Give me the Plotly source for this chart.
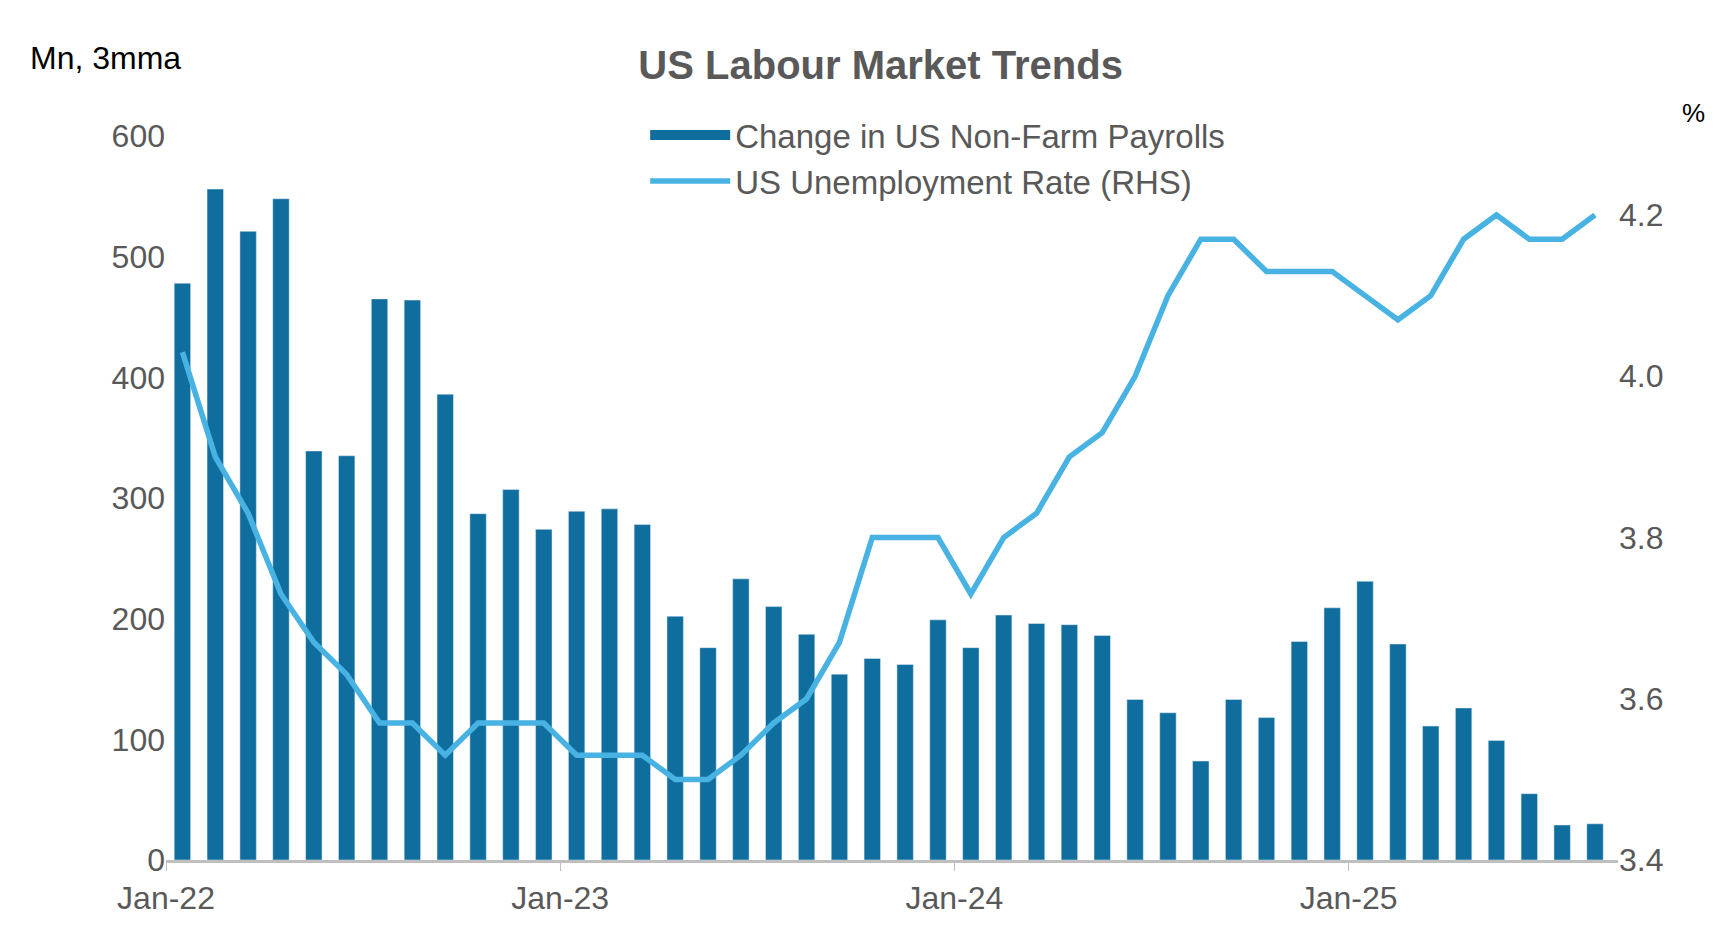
import plotly.graph_objects as go

months = [f"{m}-{y}" for y in ("22", "23", "24", "25")
          for m in ("Jan", "Feb", "Mar", "Apr", "May", "Jun", "Jul", "Aug", "Sep", "Oct", "Nov", "Dec")][:44]

payrolls = [478, 556, 521, 548, 339, 335, 465, 464, 386, 287, 307, 274,
            289, 291, 278, 202, 176, 233, 210, 187, 154, 167, 162, 199,
            176, 203, 196, 195, 186, 133, 122, 82, 133, 118, 181, 209,
            231, 179, 111, 126, 99, 55, 29, 30]

unemployment = [4.03, 3.90, 3.83, 3.73, 3.67, 3.63, 3.57, 3.57, 3.53, 3.57, 3.57, 3.57,
                3.53, 3.53, 3.53, 3.50, 3.50, 3.53, 3.57, 3.60, 3.67, 3.80, 3.80, 3.80,
                3.73, 3.80, 3.83, 3.90, 3.93, 4.00, 4.10, 4.17, 4.17, 4.13, 4.13, 4.13,
                4.10, 4.07, 4.10, 4.17, 4.20, 4.17, 4.17, 4.20]

tick_labels = ["Jan-22", "Jan-23", "Jan-24", "Jan-25"]

idx = list(range(len(months)))
tick_pos = [months.index(t) - 0.5 for t in tick_labels]

GREY = "#595959"
BAR = "#0F6E9E"
FONT = "Liberation Sans"

fig = go.Figure()
fig.add_trace(go.Bar(
    x=idx, y=payrolls, name="Change in US Non-Farm Payrolls",
    marker=dict(color=BAR), showlegend=False,
))
# legend swatch for the bars (wide rectangle like the original)
fig.add_trace(go.Scatter(
    x=[None], y=[None], name="Change in US Non-Farm Payrolls",
    mode="lines", line=dict(color=BAR, width=22),
))
fig.add_trace(go.Scatter(
    x=idx, y=unemployment, name="US Unemployment Rate (RHS)", yaxis="y2",
    mode="lines", line=dict(color="#48B2E3", width=5.5),
))

fig.update_layout(
    width=1728, height=948,
    paper_bgcolor="white", plot_bgcolor="white",
    margin=dict(l=158, r=118, t=128, b=96),
    bargap=0.5,
    font=dict(family=FONT, color=GREY, size=32),
    title=dict(text="<b>US Labour Market Trends</b>", x=0.505, xanchor="center",
               y=0.955, font=dict(size=40, color=GREY)),
    legend=dict(x=0.33, xanchor="left", y=1.04, yanchor="top",
                bgcolor="rgba(0,0,0,0)", font=dict(size=33, color=GREY),
                tracegroupgap=40, itemwidth=80),
    xaxis=dict(range=[-0.5, 43.7], tickvals=tick_pos, ticktext=tick_labels,
               showgrid=False, showline=True, linecolor="#BFBFBF", linewidth=2.5,
               ticks="outside", tickcolor="#BFBFBF", ticklen=8, zeroline=False),
    yaxis=dict(range=[0, 600], tickvals=[0, 100, 200, 300, 400, 500, 600],
               showgrid=False, zeroline=False, ticks=""),
    yaxis2=dict(range=[3.4, 4.298], overlaying="y", side="right",
                tickvals=[3.4, 3.6, 3.8, 4.0, 4.2], tickformat=".1f",
                showgrid=False, zeroline=False),
    annotations=[
        dict(text="Mn, 3mma", xref="paper", yref="paper", x=-0.095, y=1.135,
             xanchor="left", showarrow=False, font=dict(size=32, color="black")),
        dict(text="%", xref="paper", yref="paper", x=1.052, y=1.055,
             xanchor="center", showarrow=False, font=dict(size=26, color="black")),
    ],
)

fig.write_html("out.html")
